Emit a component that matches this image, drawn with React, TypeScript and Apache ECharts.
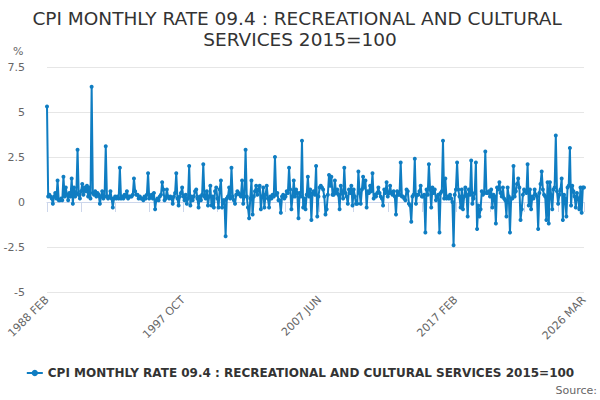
import React, { useEffect, useRef } from "react";
import * as echarts from "echarts";

const titleText = "CPI MONTHLY RATE 09.4 : RECREATIONAL AND CULTURAL SERVICES 2015=100";
const seriesName = "CPI MONTHLY RATE 09.4 : RECREATIONAL AND CULTURAL SERVICES 2015=100";
const monthNames = ["JAN", "FEB", "MAR", "APR", "MAY", "JUN", "JUL", "AUG", "SEP", "OCT", "NOV", "DEC"];
const startYear = 1988;
const startMonth = 1; // FEB (0-based)
const yTicks = [-5, -2.5, 0, 2.5, 5, 7.5];

const values1988to1992 = [
  5.3, 0.3, 0.4, 0.3, 0.2, -0.1, 0.3, 0.5, 0.2, 1.2, 0.1,
  0.1, 0.2, 0.1, 1.4, 0.3, 0.8, 0.4, 0.1, 0.5, 0.3, 1.3, -0.1,
  0.8, 0.3, 0.5, 2.9, 0.4, 0.2, 0.6, 1.0, 0.4, 0.8, 0.6, 0.9,
  0.3, 0.8, 0.2, 6.4, 0.5, 0.4, 0.6, 0.3, 0.5, 0.4, -0.1, 0.3,
  0.6, 0.2, 0.3, 3.1, 0.3, 0.2, 0.3, 0.6, 0.2, -0.3, 0.2, 0.3,
];
const values1993to1997 = [
  0.2, 0.3, 0.2, 1.9, 0.2, 0.3, 0.2, 0.4, 0.3, 0.6, 0.2, 0.3,
  0.3, 0.3, 0.4, 1.3, 0.6, 0.4, 0.4, 0.2, 0.3, 0.2, 0.2, 0.1,
  0.3, 0.2, 0.4, 1.6, 0.2, 0.3, 0.4, 0.2, 0.5, -0.4, 0.1, 0.2,
  0.1, 0.3, 0.4, 1.1, 0.7, 0.1, 0.2, 0.7, 0.3, 0.2, 0.3, 0.2,
  -0.1, 0.3, 0.5, 1.6, 0.2, -0.2, 0.3, 0.5, 0.8, 0.3, 0.1, 0.4,
];
const values1998to2002 = [
  -0.1, 0.2, 2.0, -0.2, 0.3, 0.1, 0.3, 0.6, 0.7, 0.2, -0.3, 0.3,
  0.1, 0.4, 2.1, 0.3, 0.2, 0.6, -0.2, 0.3, 0.9, -0.2, 0.3, -0.3,
  0.6, 0.8, 0.2, -0.3, 0.7, 1.2, -0.3, 0.1, 0.1, -1.9, 0.2, 0.3,
  0.8, 0.2, 1.9, 0.3, 0.1, -0.1, 0.4, 0.6, 0.5, 0.4, 0.3, 1.2,
  -0.1, 0.3, 2.9, 0.3, -0.3, -0.9, 0.2, 1.2, -0.7, 0.3, 0.6, 0.9,
];
const values2003to2007 = [
  0.4, 0.7, 0.9, -0.4, 0.3, 0.8, -0.3, 0.4, 0.9, 0.2, -0.3, 0.3,
  0.2, 0.4, 0.3, 2.5, 0.4, 0.5, 0.1, 0.1, -0.6, 0.3, 0.4, 0.2,
  0.3, 0.6, 0.5, 1.9, 0.7, -0.4, 0.3, 1.2, 0.3, 0.7, 0.5, -0.9,
  0.5, 0.3, 3.4, -0.3, 0.2, -0.4, 0.4, 1.4, 0.3, 0.7, -1.0, 0.5,
  0.6, 0.4, 2.0, -0.8, 0.3, 0.8, 0.9, 0.8, 0.7, 0.3, -0.7, -0.4,
];
const values2008to2012 = [
  0.4, 1.5, 0.9, 1.4, 0.4, 0.4, 1.2, 0.5, 0.7, 0.4, -0.4, 0.9,
  0.5, 0.2, 1.9, 0.5, 0.3, -0.1, 0.7, 0.5, 0.9, -0.2, 0.7, 0.3,
  -0.1, -0.1, 1.7, 0.5, -0.1, 0.7, 1.4, 0.8, 1.2, -0.3, 0.6, 0.5,
  0.9, 0.6, 1.6, 0.2, 0.4, 0.3, 0.5, 0.8, 0.5, 0.3, 0.2, -0.2,
  0.7, 0.5, 1.1, 0.3, 0.5, 0.9, 0.5, 0.4, 0.6, 0.3, -0.7, 0.6,
];
const values2013to2017 = [
  0.4, 0.4, 2.2, 0.3, 0.3, 0.2, 0.1, 0.7, 0.6, -0.1, -0.2, -1.1,
  0.3, 0.4, 2.4, -0.1, 0.4, 0.4, 0.6, 0.9, 0.3, 0.3, 0.4, -1.7,
  0.7, 0.4, 2.1, 0.7, -0.3, 0.8, 0.5, 0.7, 0.1, 0.3, 0.4, -1.7,
  0.5, 0.6, 3.4, 0.2, 1.3, 0.2, 0.3, 0.2, 0.4, 0.2, 0.0, -2.4,
  0.4, 0.7, 2.2, 0.7, 0.3, -0.3, 0.7, -0.4, 0.3, 0.8, 0.4, -0.8,
];
const values2018to2022 = [
  0.7, 0.4, 2.3, -0.1, 0.2, 0.5, 2.2, -1.5, -0.2, -0.8, -0.4, 0.6,
  0.4, 0.5, 2.8, 0.5, 0.5, 0.6, 0.3, 0.7, -0.3, 0.4, 0.3, -1.2,
  0.8, 0.7, 1.1, 0.5, 0.3, 0.8, 0.2, 0.1, -0.8, 0.8, 0.3, -1.7,
  0.2, 0.2, 2.0, 0.3, 0.6, 1.0, 1.3, 0.8, -1.0, -0.4, 0.4, 0.7,
  0.6, 0.5, 2.1, -0.2, 0.7, -0.4, 0.3, 0.2, 0.7, 0.4, 0.3, -1.5,
];
const values2023to2026 = [
  0.5, 1.0, 1.7, 0.7, 0.4, 0.3, -1.0, 1.1, -1.2, 1.1, 0.4, -0.4,
  0.7, 0.8, 3.7, 0.6, -0.1, 0.4, 0.7, 1.3, -1.0, 0.4, 0.2, -0.8,
  0.8, 0.9, 3.0, -0.2, 0.9, 0.6, 0.3, -0.3, 0.5, 0.2, -0.4, 0.8,
  -0.6, 0.8, 0.8,
];

const values = [
  ...values1988to1992,
  ...values1993to1997,
  ...values1998to2002,
  ...values2003to2007,
  ...values2008to2012,
  ...values2013to2017,
  ...values2018to2022,
  ...values2023to2026,
];

const categories = values.map((_, i) => {
  const m = startMonth + i;
  return `${startYear + Math.floor(m / 12)} ${monthNames[m % 12]}`;
});

const lastIdx = categories.length - 1;

export default function App() {
  const ref = useRef<HTMLDivElement>(null);
  useEffect(() => {
    document.body.style.margin = "0";
    if (!ref.current) return;
    const chart = echarts.init(ref.current, null, { renderer: "svg" });
    chart.setOption({
      animation: false,
      backgroundColor: "#ffffff",
      textStyle: { fontFamily: "DejaVu Sans" },
      title: {
        text: titleText,
        left: "center",
        top: 3,
        textStyle: {
          fontSize: 18.5,
          fontWeight: "normal",
          color: "#333333",
          width: 560,
          overflow: "break",
          lineHeight: 21,
          align: "center",
        },
      },
      grid: { left: 47, right: 16, top: 67, bottom: 108, containLabel: false },
      xAxis: {
        type: "category",
        data: categories,
        boundaryGap: false,
        axisLine: { lineStyle: { color: "#ccd6eb", width: 1 } },
        axisTick: {
          show: true,
          length: 10,
          lineStyle: { color: "#ccd6eb" },
          interval: (idx: number) => idx % 29 === 0 || idx === lastIdx,
        },
        axisLabel: {
          rotate: 45,
          fontSize: 11,
          color: "#666666",
          margin: 6,
          interval: (idx: number) => idx % 116 === 0 || idx === lastIdx,
        },
        splitLine: { show: false },
      },
      yAxis: {
        type: "value",
        min: yTicks[0],
        max: yTicks[yTicks.length - 1],
        interval: 2.5,
        axisLine: { show: false },
        axisTick: { show: false },
        axisLabel: { fontSize: 11, color: "#666666", margin: 22 },
        splitLine: { lineStyle: { color: "#e6e6e6", width: 1 } },
      },
      legend: {
        bottom: 16,
        left: "center",
        itemWidth: 16,
        itemHeight: 8,
        textStyle: { fontSize: 12, fontWeight: "bold", color: "#333333" },
        data: [seriesName],
      },
      graphic: [
        {
          type: "text",
          left: 13,
          top: 46,
          style: { text: "%", fontSize: 11, fill: "#666666", fontFamily: "DejaVu Sans" },
        },
        {
          type: "text",
          right: 3,
          bottom: 4,
          style: { text: "Source:", fontSize: 11, fill: "#666666", fontFamily: "DejaVu Sans" },
        },
      ],
      series: [
        {
          name: seriesName,
          type: "line",
          data: values,
          color: "#0f7dc2",
          lineStyle: { width: 2, color: "#0f7dc2" },
          symbol: "circle",
          symbolSize: 4,
          showSymbol: true,
          showAllSymbol: true,
          itemStyle: { color: "#0f7dc2" },
        },
      ],
    });
    return () => chart.dispose();
  }, []);
  return <div ref={ref} style={{ width: 600, height: 400 }} />;
}
